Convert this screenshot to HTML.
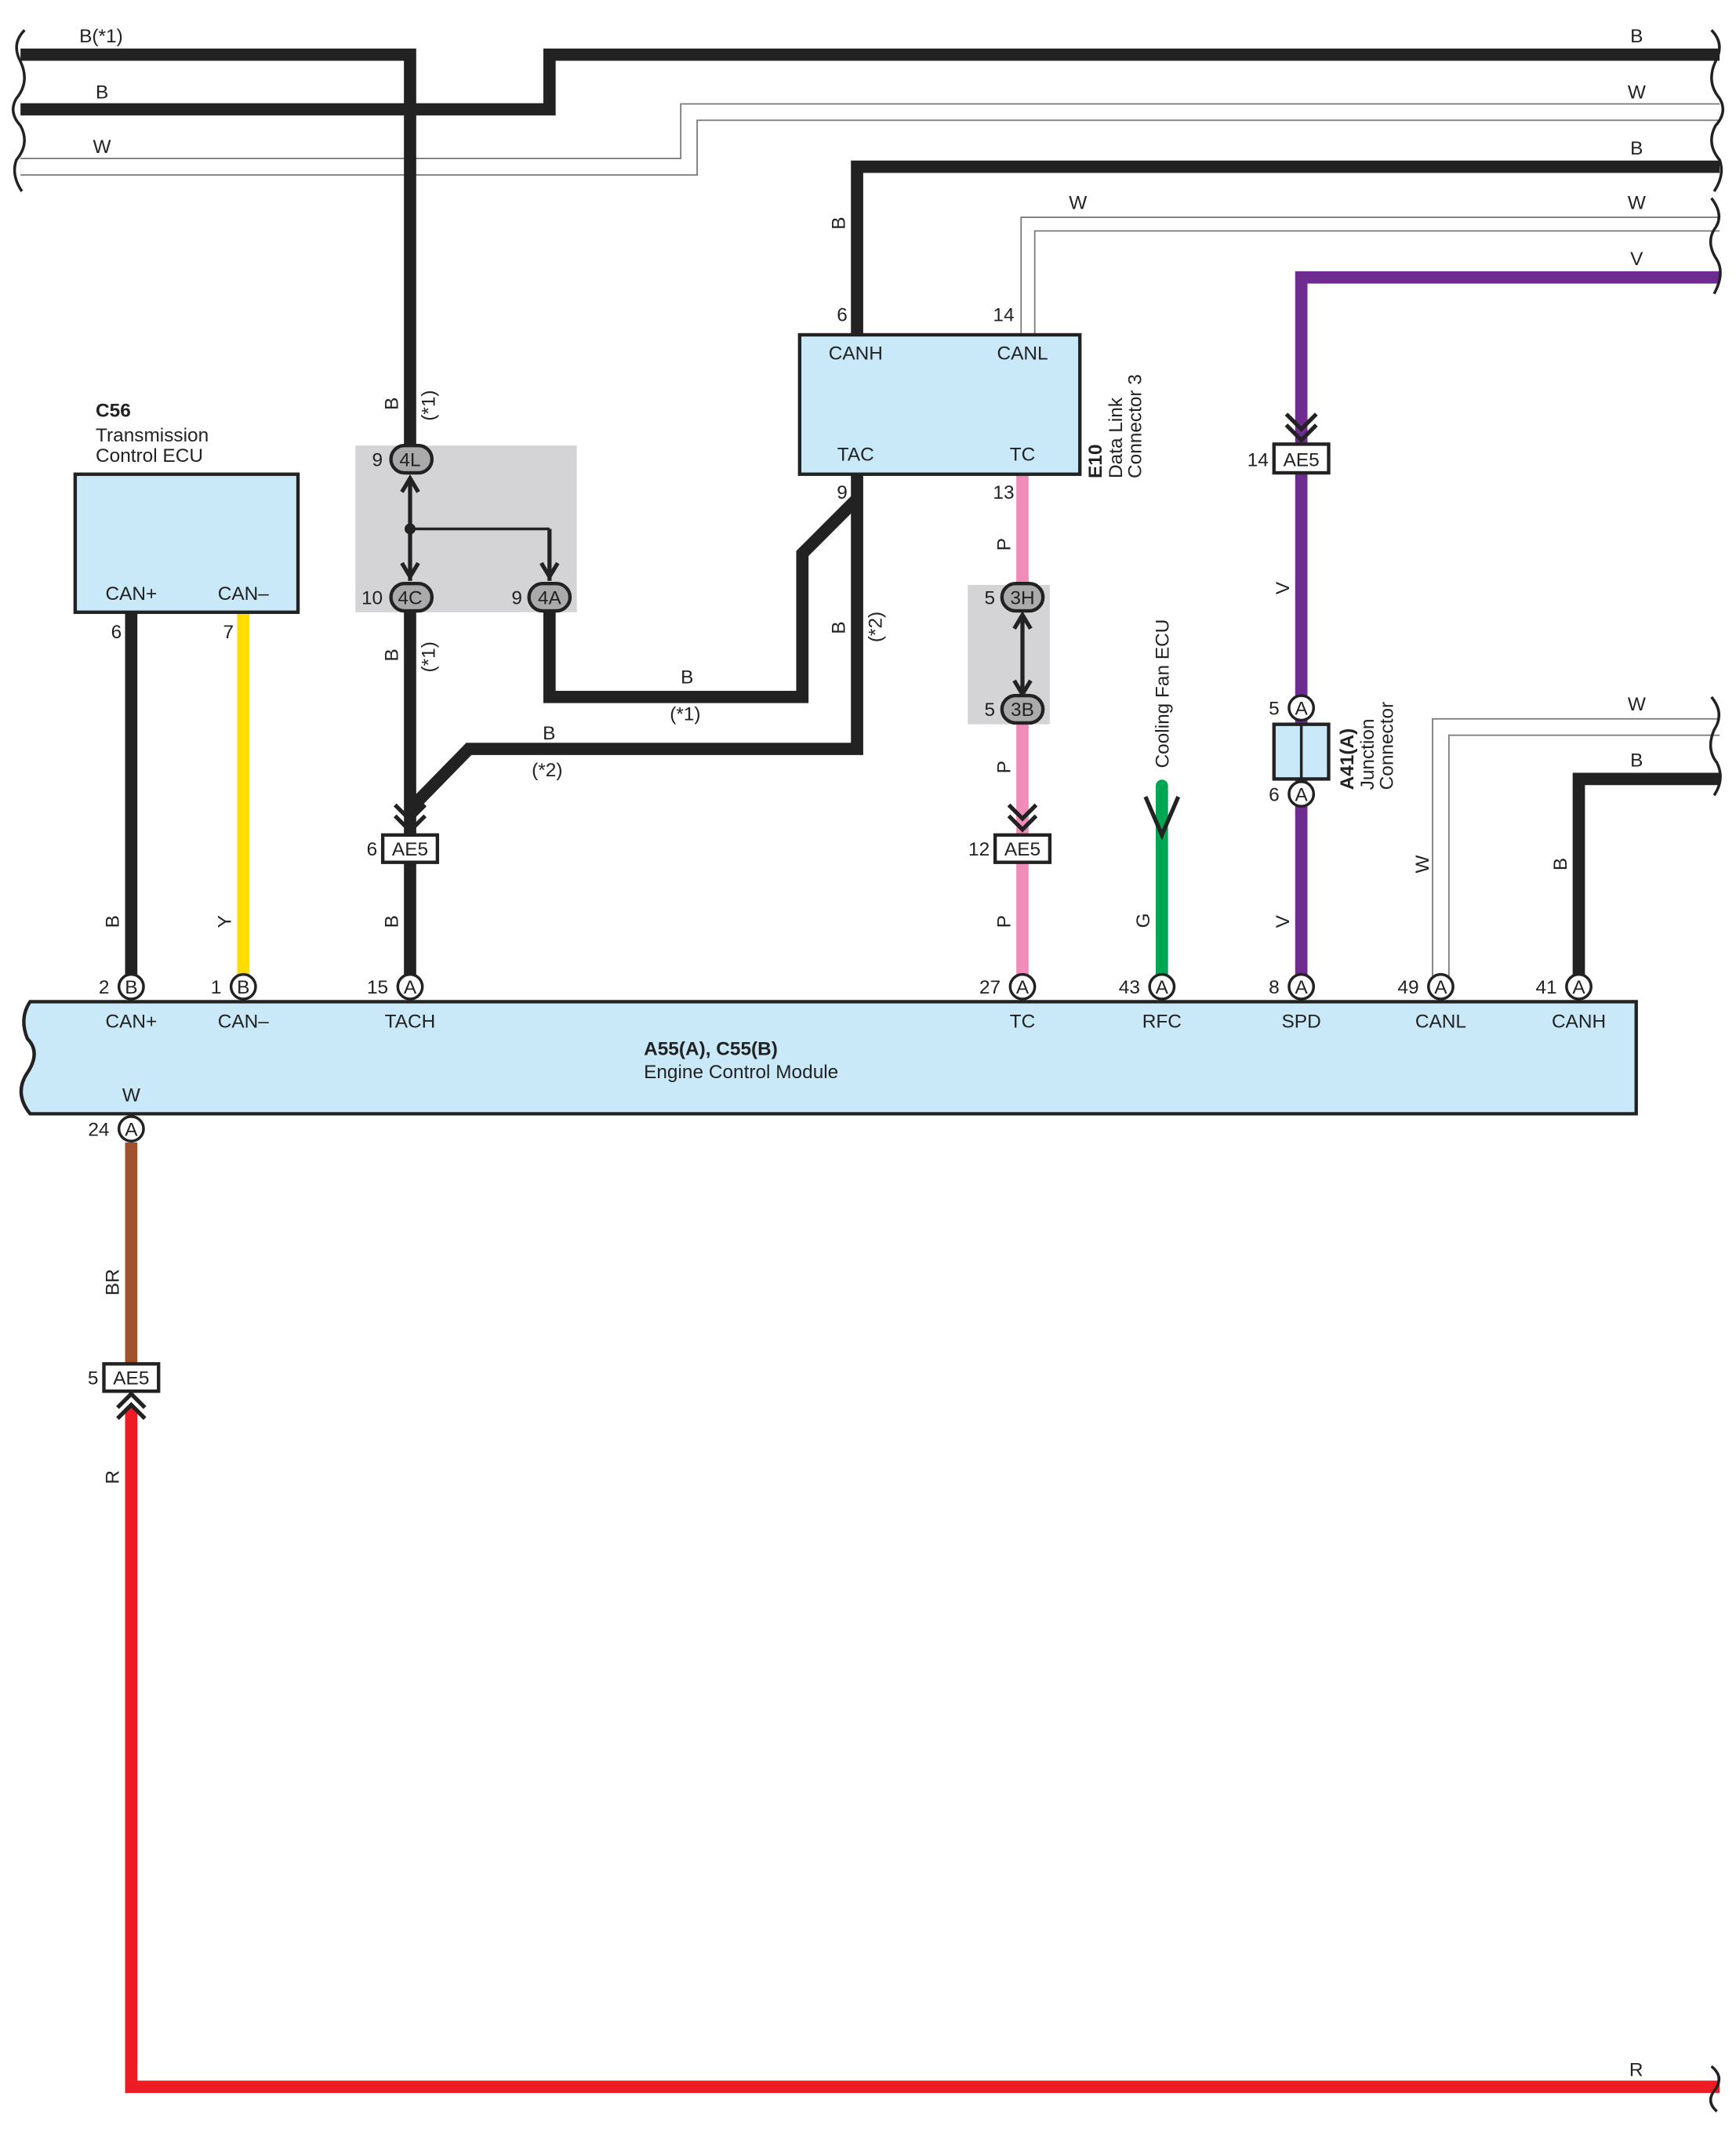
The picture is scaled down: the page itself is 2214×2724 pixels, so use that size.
<!DOCTYPE html>
<html><head><meta charset="utf-8"><style>html,body{margin:0;padding:0;background:#fff}svg{display:block}text{font-family:"Liberation Sans",sans-serif;font-size:14px;fill:#222}</style></head>
<body>
<svg width="2214" height="2724" viewBox="0 0 1270 1563" preserveAspectRatio="none" xmlns="http://www.w3.org/2000/svg">
<defs>
<g id="cA"><circle r="9" fill="#fff" stroke="#222" stroke-width="2"/></g>
</defs>
<rect x="260" y="326" width="162" height="122" fill="#d4d4d6"/>
<rect x="708" y="428" width="60" height="102" fill="#d4d4d6"/>
<g fill="none" stroke-linejoin="miter">
<path d="M15 122 H504 V82 H1258" stroke="#777" stroke-width="13"/>
<path d="M15 122 H504 V82 H1258" stroke="#fff" stroke-width="11"/>
<path d="M752 245 V164 H1258" stroke="#777" stroke-width="11"/>
<path d="M752 245 V164 H1258" stroke="#fff" stroke-width="9"/>
<path d="M1054 722 V532 H1258" stroke="#777" stroke-width="13"/>
<path d="M1054 722 V532 H1258" stroke="#fff" stroke-width="11"/>
</g>
<g fill="none" stroke="#222" stroke-width="9" stroke-linejoin="miter">
<path d="M15 40 H300 V330"/>
<path d="M15 80 H402 V40 H1258"/>
<path d="M1258 122 H627 V245"/>
<path d="M300 445 V722"/>
<path d="M402 445 V510 H587 V405 L627 365"/>
<path d="M627 347 V548 H343 L300 592"/>
<path d="M96 448 V722"/>
<path d="M1155 722 V570 H1258"/>
</g>
<path d="M300 387 H402" stroke="#222" stroke-width="2" fill="none"/>
<path d="M300 350 V425 M402 387 V425" stroke="#222" stroke-width="3"/>
<circle cx="300" cy="387" r="4" fill="#222"/>
<path d="M178 448 V722" stroke="#ffdd00" stroke-width="9"/>
<path d="M1258 203 H952 V722" stroke="#6e2c91" stroke-width="9" fill="none"/>
<path d="M748 347 V430 M748 527 V722" stroke="#f08cb8" stroke-width="9"/>
<path d="M850 575 V722" stroke="#00a651" stroke-width="9" stroke-linecap="round"/>
<path d="M96 836 V1000" stroke="#a0522d" stroke-width="9"/>
<path d="M96 1030 V1527 H1258" stroke="#ed1c24" stroke-width="9" fill="none"/>
<g fill="none" stroke="#222" stroke-width="3">
<path d="M289 589 l11 11 l11 -11 M289 597 l11 11 l11 -11"/>
<path d="M738 589 l10 10 l10 -10 M738 597 l10 10 l10 -10"/>
<path d="M941 303 l11 11 l11 -11 M941 311 l11 11 l11 -11"/>
<path d="M86 1030 l10 -10 l10 10 M86 1038 l10 -10 l10 10"/>
<path d="M838 583 l12 28 l12 -28"/>
<path d="M742 460 l6 -10 l6 10 M742 498 l6 10 l6 -10 M748 452 V506"/>
<path d="M294 360 l6 -10 l6 10 M294 412 l6 10 l6 -10 M396 412 l6 10 l6 -10"/>
</g>
<rect x="585" y="245" width="205" height="102" fill="#c9e9f9" stroke="#222" stroke-width="2.5"/>
<rect x="55" y="347" width="163" height="101" fill="#c9e9f9" stroke="#222" stroke-width="2.5"/>
<path d="M22 733 H1197 V815 H22 Q10 800 20 785 Q30 770 20 760 Q14 745 22 733 Z" fill="#c9e9f9" stroke="#222" stroke-width="2.5"/>
<rect x="932" y="530" width="40" height="40" fill="#c9e9f9" stroke="#222" stroke-width="2.5"/>
<path d="M952 530 V570" stroke="#222" stroke-width="2"/>
<g fill="#fff" stroke="#222" stroke-width="2.5">
<rect x="280" y="611" width="40" height="20"/><rect x="728" y="611" width="40" height="20"/>
<rect x="932" y="325" width="40" height="21"/><rect x="76" y="998" width="40" height="20"/>
</g>
<g text-anchor="middle"><text x="300" y="626">AE5</text><text x="748" y="626">AE5</text><text x="952" y="341">AE5</text><text x="96" y="1013">AE5</text></g>
<g fill="#aaa" stroke="#222" stroke-width="2.5">
<rect x="286" y="326" width="30" height="20" rx="10"/><rect x="286" y="427" width="30" height="20" rx="10"/>
<rect x="387" y="427" width="30" height="20" rx="10"/><rect x="733" y="427" width="30" height="20" rx="10"/>
<rect x="733" y="509" width="30" height="20" rx="10"/>
</g>
<g text-anchor="middle"><text x="300" y="341">4L</text><text x="300" y="442">4C</text><text x="402" y="442">4A</text><text x="748" y="442">3H</text><text x="748" y="524">3B</text></g>
<g>
<use href="#cA" x="96" y="722"/><use href="#cA" x="178" y="722"/><use href="#cA" x="300" y="722"/><use href="#cA" x="748" y="722"/><use href="#cA" x="850" y="722"/><use href="#cA" x="952" y="722"/><use href="#cA" x="1054" y="722"/><use href="#cA" x="1155" y="722"/><use href="#cA" x="96" y="826"/><use href="#cA" x="952" y="518"/><use href="#cA" x="952" y="581"/>
</g>
<g text-anchor="middle" font-size="13">
<text x="96" y="727">B</text><text x="178" y="727">B</text><text x="300" y="727">A</text><text x="748" y="727">A</text><text x="850" y="727">A</text><text x="952" y="727">A</text><text x="1054" y="727">A</text><text x="1155" y="727">A</text><text x="96" y="831">A</text><text x="952" y="523">A</text><text x="952" y="586">A</text>
</g>
<g text-anchor="end">
<text x="80" y="727">2</text><text x="162" y="727">1</text><text x="284" y="727">15</text><text x="732" y="727">27</text><text x="834" y="727">43</text><text x="936" y="727">8</text><text x="1038" y="727">49</text><text x="1139" y="727">41</text><text x="80" y="831">24</text>
<text x="276" y="626">6</text><text x="724" y="626">12</text><text x="928" y="341">14</text><text x="72" y="1013">5</text>
<text x="280" y="341">9</text><text x="280" y="442">10</text><text x="382" y="442">9</text><text x="728" y="442">5</text><text x="728" y="524">5</text>
<text x="936" y="523">5</text><text x="936" y="586">6</text>
<text x="89" y="467">6</text><text x="171" y="467">7</text>
<text x="620" y="235">6</text><text x="742" y="235">14</text><text x="620" y="365">9</text><text x="742" y="365">13</text>
</g>
<g text-anchor="middle">
<text x="626" y="263">CANH</text><text x="748" y="263">CANL</text><text x="626" y="337">TAC</text><text x="748" y="337">TC</text>
<text x="96" y="439">CAN+</text><text x="178" y="439">CAN–</text>
<text x="96" y="752">CAN+</text><text x="178" y="752">CAN–</text><text x="300" y="752">TACH</text><text x="748" y="752">TC</text><text x="850" y="752">RFC</text><text x="952" y="752">SPD</text><text x="1054" y="752">CANL</text><text x="1155" y="752">CANH</text>
<text x="96" y="806">W</text>
</g>
<text x="70" y="305" font-weight="bold">C56</text><text x="70" y="323">Transmission</text><text x="70" y="338">Control ECU</text>
<text x="471" y="772" font-weight="bold">A55(A), C55(B)</text><text x="471" y="789">Engine Control Module</text>
<g transform="translate(806,350) rotate(-90)"><text font-weight="bold">E10</text><text y="15">Data Link</text><text y="29">Connector 3</text></g>
<g transform="translate(990,578) rotate(-90)"><text font-weight="bold">A41(A)</text><text y="15">Junction</text><text y="29">Connector</text></g>
<g transform="translate(855,562) rotate(-90)"><text>Cooling Fan ECU</text></g>
<text x="58" y="31">B(*1)</text><text x="70" y="72">B</text><text x="68" y="112">W</text>
<g text-anchor="end"><text x="1202" y="31">B</text><text x="1204" y="72">W</text><text x="1202" y="113">B</text><text x="1204" y="153">W</text><text x="1202" y="194">V</text><text x="1204" y="520">W</text><text x="1202" y="561">B</text><text x="1202" y="1519">R</text></g>
<text x="782" y="153">W</text><text x="498" y="500">B</text><text x="490" y="527">(*1)</text><text x="397" y="541">B</text><text x="389" y="568">(*2)</text>
<g font-size="13">
<text transform="translate(291,300) rotate(-90)">B</text><text transform="translate(318,308) rotate(-90)">(*1)</text>
<text transform="translate(291,484) rotate(-90)">B</text><text transform="translate(318,492) rotate(-90)">(*1)</text>
<text transform="translate(618,464) rotate(-90)">B</text><text transform="translate(645,470) rotate(-90)">(*2)</text>
<text transform="translate(618,168) rotate(-90)">B</text>
<text transform="translate(739,403) rotate(-90)">P</text><text transform="translate(739,566) rotate(-90)">P</text><text transform="translate(739,679) rotate(-90)">P</text>
<text transform="translate(943,435) rotate(-90)">V</text><text transform="translate(943,679) rotate(-90)">V</text>
<text transform="translate(841,679) rotate(-90)">G</text>
<text transform="translate(87,679) rotate(-90)">B</text><text transform="translate(169,679) rotate(-90)">Y</text><text transform="translate(291,679) rotate(-90)">B</text>
<text transform="translate(1045,639) rotate(-90)">W</text><text transform="translate(1146,637) rotate(-90)">B</text>
<text transform="translate(87,948) rotate(-90)">BR</text><text transform="translate(87,1086) rotate(-90)">R</text>
</g>
<g fill="none" stroke="#222" stroke-width="2">
<path d="M18 22 Q8 32 15 45 Q22 60 12 72 Q6 82 15 92 Q22 105 12 117 Q8 128 16 140"/>
<path d="M1252 22 Q1262 32 1255 45 Q1248 60 1258 72 Q1264 82 1255 92 Q1248 105 1258 117 Q1262 128 1254 140"/>
<path d="M1252 145 Q1262 158 1254 168 Q1248 178 1256 190 Q1262 200 1254 215"/>
<path d="M1252 510 Q1262 522 1254 534 Q1248 548 1256 558 Q1262 570 1254 582"/>
<path d="M1252 1512 Q1262 1520 1254 1530 Q1248 1538 1256 1545"/>
</g>
</svg>
</body></html>
